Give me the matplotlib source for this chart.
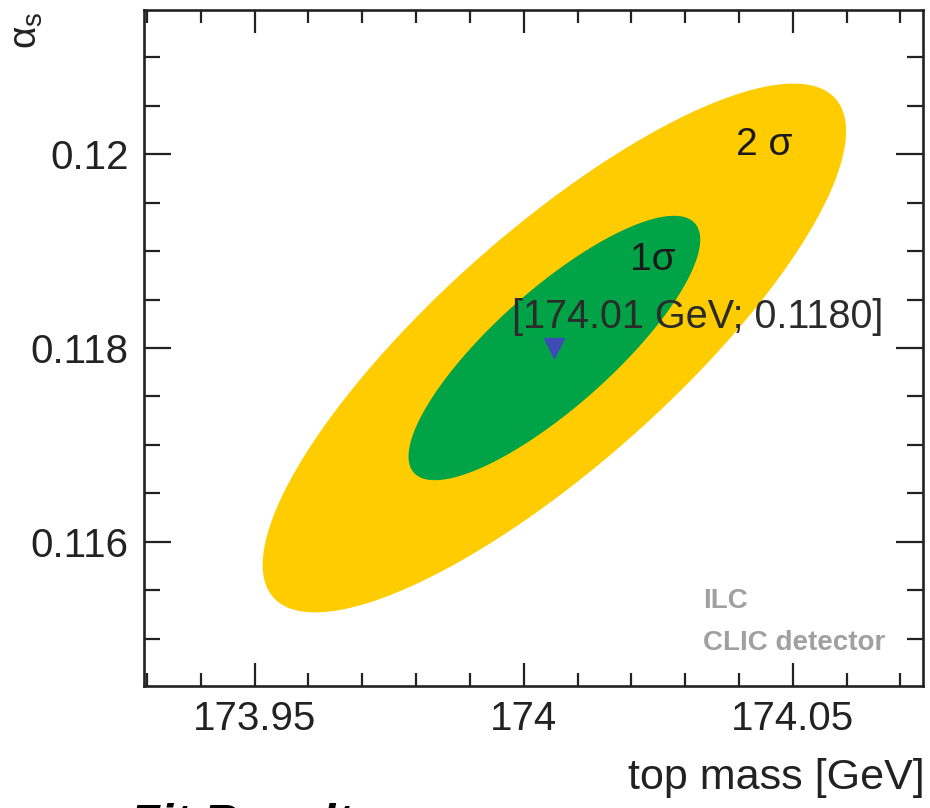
#%%
# alpha_s vs top mass fit contours (1 sigma / 2 sigma)
import numpy as np
import matplotlib
matplotlib.use('Agg')
import matplotlib.pyplot as plt
from matplotlib.ticker import MultipleLocator, FuncFormatter

plt.rcParams['font.family'] = ['Liberation Sans', 'DejaVu Sans']
plt.rcParams['mathtext.fontset'] = 'custom'
plt.rcParams['mathtext.rm'] = 'Liberation Sans'
plt.rcParams['mathtext.it'] = 'Liberation Sans'

#%%
# fit result
m_fit = 174.0057      # GeV
as_fit = 0.1180
sig_m = 0.0271        # GeV
sig_as = 0.001365
rho = 0.82

levels = [2, 1]                       # n sigma, outer first
level_colors = ['#ffcc00', '#00a346']
level_labels = ['2 σ', '1σ']
label_pos = [(174.0394, 0.11999), (174.0198, 0.11881)]

x_ticks = [173.95, 174.0, 174.05]
y_ticks = [0.116, 0.118, 0.120]
point_label = '[174.01 GeV; 0.1180]'

#%%
fig = plt.figure(figsize=(9.30, 8.08), dpi=100)
ax = fig.add_axes([0.1548, 0.1510, 0.9925 - 0.1548, 0.98762 - 0.1510])

t = np.linspace(0, 2 * np.pi, 400)
for n, c in zip(levels, level_colors):
    xs = m_fit + n * sig_m * np.cos(t)
    ys = as_fit + n * sig_as * (rho * np.cos(t) + np.sqrt(1 - rho**2) * np.sin(t))
    ax.fill(xs, ys, color=c, lw=0, zorder=1)

ax.plot([m_fit], [as_fit], marker='v', ms=14, color='#3c4bb5', ls='none', zorder=3)

for lab, (lx, ly) in zip(level_labels, label_pos):
    ax.text(lx, ly, lab, fontsize=28, color='#1a1a1a', va='baseline', ha='left', zorder=4)
ax.text(173.9978, 0.11821, point_label, fontsize=28.5, color='#2b2b2b',
        va='baseline', ha='left', zorder=4)

ax.text(0.7176, 0.1154, 'ILC', transform=ax.transAxes, fontsize=20,
        fontweight='bold', color='#a0a0a0', va='baseline')
ax.text(0.7176, 0.0533, 'CLIC detector', transform=ax.transAxes, fontsize=20,
        fontweight='bold', color='#a0a0a0', va='baseline')

#%%
# axes, ROOT style ticks
ax.set_xlim(173.92944, 174.0742)
ax.set_ylim(0.11451, 0.12149)
ax.set_xticks(x_ticks)
ax.set_yticks(y_ticks)
ax.xaxis.set_minor_locator(MultipleLocator(0.01))
ax.yaxis.set_minor_locator(MultipleLocator(0.0005))
ax.xaxis.set_major_formatter(FuncFormatter(lambda v, p: '%g' % round(v, 4)))
ax.yaxis.set_major_formatter(FuncFormatter(lambda v, p: '%g' % round(v, 4)))

ax.tick_params(axis='both', which='both', direction='in', top=True, right=True,
               width=1.6, color='#222222', labelsize=29, labelcolor='#222222')
ax.tick_params(axis='x', which='major', length=16.5, pad=10)
ax.tick_params(axis='x', which='minor', length=9.4)
ax.tick_params(axis='y', which='major', length=19.4, pad=11)
ax.tick_params(axis='y', which='minor', length=11.5)
for s in ax.spines.values():
    s.set_linewidth(1.9)
    s.set_color('#222222')

fig.text(925 / 930, 1 - 778 / 808, 'top mass [GeV]', fontsize=31,
         ha='right', va='center', color='#222222')
fig.text(27 / 930, 1 - 12 / 808, r'$\alpha_s$', fontsize=28, rotation=90,
         ha='center', va='top', color='#222222')
# title sits mostly below the bottom edge, as in the original
fig.text(130 / 930, 1 - 803.5 / 808, 'Fit Results', fontsize=35,
         fontweight='bold', fontstyle='italic', ha='left', va='top')

fig.savefig('out.png', dpi=100)
